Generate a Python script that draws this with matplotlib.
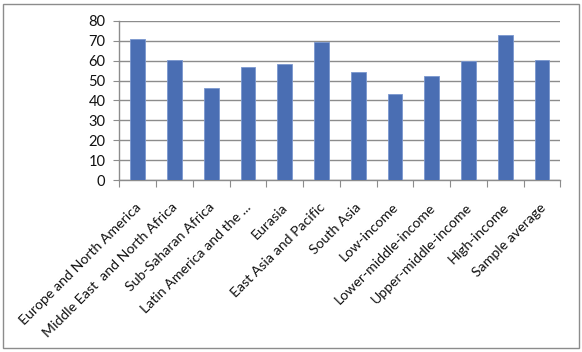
import matplotlib
matplotlib.use("Agg")
import matplotlib.pyplot as plt
import matplotlib.transforms as mtransforms
from matplotlib.patches import Rectangle
import numpy as np

# values
categories = [
    "Europe and North America",
    "Middle East  and North Africa",
    "Sub-Saharan Africa",
    "Latin America and the ...",
    "Eurasia",
    "East Asia and Pacific",
    "South Asia",
    "Low-income",
    "Lower-middle-income",
    "Upper-middle-income",
    "High-income",
    "Sample average",
]
values = [70.8, 60.1, 46.4, 56.6, 58.4, 69.2, 54.3, 43.4, 52.3, 59.6, 72.8, 60.3]
y_ticks = [0, 10, 20, 30, 40, 50, 60, 70, 80]

BAR = "#4a6eb3"
GRID = "#8c8c8c"

plt.rcParams["font.family"] = ["Lato", "DejaVu Sans"]

fig = plt.figure(figsize=(5.82, 3.52), dpi=100)
ax = fig.add_axes([0.205, 0.488, 0.758, 0.453])

x = np.arange(len(categories))
ax.bar(x, values, width=0.4, color=BAR, edgecolor="#7b97cf", linewidth=0.6, zorder=3)

ax.set_xlim(-0.5, len(categories) - 0.5)
ax.set_ylim(0, 80)
ax.set_yticks(y_ticks)
ax.yaxis.grid(True, color=GRID, linewidth=1.0, zorder=0)
ax.set_axisbelow(True)

for s in ["top", "right"]:
    ax.spines[s].set_visible(False)
for s in ["left", "bottom"]:
    ax.spines[s].set_color(GRID)
    ax.spines[s].set_linewidth(1.0)

# ticks sit on the category boundaries, labels at the centres
ax.set_xticks(np.arange(len(categories) + 1) - 0.5)
ax.set_xticklabels([])
ax.set_xticks(x, minor=True)
ax.set_xticklabels(categories, minor=True, rotation=45, ha="right", va="top",
                   rotation_mode="anchor", fontsize=10.2, color="#111111")
ax.tick_params(axis="x", which="major", length=5, color=GRID, direction="out")
ax.tick_params(axis="x", which="minor", length=0, pad=15)
ax.tick_params(axis="y", length=4, color=GRID, labelsize=10.5, pad=6, labelcolor="#111111")

# nudge the rotated labels slightly left
shift = mtransforms.ScaledTranslation(-3 / 100, 0, fig.dpi_scale_trans)
for lab in ax.get_xticklabels(minor=True):
    lab.set_transform(lab.get_transform() + shift)

# outer chart frame
fig.patches.append(Rectangle((0.006, 0.011), 0.988, 0.977, transform=fig.transFigure,
                             fill=False, edgecolor="#8c8c8c", linewidth=1.0))

fig.savefig("out.png", dpi=100)
